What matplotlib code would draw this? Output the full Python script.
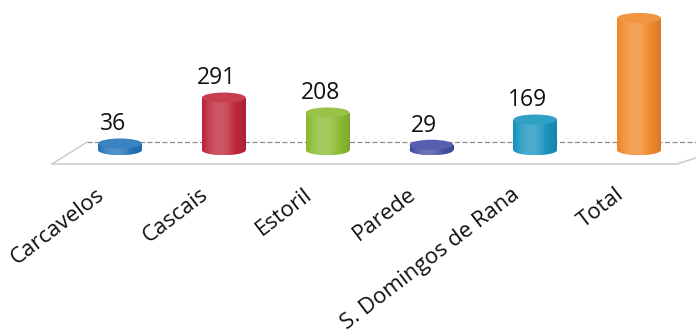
import numpy as np
import matplotlib.pyplot as plt
from matplotlib.patches import Rectangle, Ellipse
from matplotlib.colors import to_rgb

plt.rcParams['font.family'] = ['Open Sans', 'DejaVu Sans']

categories = ['Carcavelos', 'Cascais', 'Estoril', 'Parede', 'S. Domingos de Rana', 'Total']
values = [36, 291, 208, 29, 169, 733]
colors = ['#2474bb', '#c0283b', '#8cbc33', '#444ea5', '#1a95bf', '#f0892c']
show_value = [True, True, True, True, True, False]

fig = plt.figure(figsize=(6.96, 3.36), dpi=100)
ax = fig.add_axes([0, 0, 1, 1])
ax.set_xlim(-120 / 103.8, 576 / 103.8)
ax.set_ylim(-1033, 833)
ax.axis('off')

bar_w = 0.42
ell_h = 56  # ellipse height in data units


def shade(base, n=64):
    r, g, b = to_rgb(base)
    t = np.linspace(0, 1, n)
    # light band a bit left of centre, darker at the edges
    k = 1 - 1.6 * (t - 0.4) ** 2
    rows = []
    for kk in k:
        if kk >= 0.8:
            m = (kk - 0.8) / 0.2 * 0.22
            rows.append([r + (1 - r) * m, g + (1 - g) * m, b + (1 - b) * m])
        else:
            f = 0.75 + 0.25 * kk / 0.8
            rows.append([r * f, g * f, b * f])
    return np.array(rows)[None, :, :]


def lighten(base, m):
    r, g, b = to_rgb(base)
    return (r + (1 - r) * m, g + (1 - g) * m, b + (1 - b) * m)


# floor of the plot area
ax.plot([-0.318, 5.55], [44, 44], color='#8c8c8c', lw=0.9, ls=(0, (4, 2)), zorder=1)
ax.plot([-0.655, -0.318], [-78, 44], color='#c8c8c8', lw=1.0, zorder=1)
ax.plot([-0.655, 5.366, 5.55], [-78, -78, -44], color='#d2d2d2', lw=1.3, zorder=1)

x = np.arange(len(categories))
for i, (v, c) in enumerate(zip(values, colors)):
    left = x[i] - bar_w / 2
    grad = shade(c)
    body = Rectangle((left, 0), bar_w, v, facecolor=c, edgecolor='none', zorder=3)
    bottom = Ellipse((x[i], 0), bar_w, ell_h, facecolor=c, edgecolor='none', zorder=3)
    ax.add_patch(body)
    ax.add_patch(bottom)
    for p in (body, bottom):
        im = ax.imshow(grad, extent=(left, left + bar_w, -ell_h, v), aspect='auto',
                       interpolation='bilinear', zorder=4)
        im.set_clip_path(p)
    top = Ellipse((x[i], v), bar_w, ell_h, facecolor=lighten(c, 0.1),
                  edgecolor='none', zorder=5)
    ax.add_patch(top)
    if show_value[i]:
        ax.text(x[i] - 0.07, v + ell_h / 2 + 12, str(v), ha='center', va='bottom',
                fontsize=16.5, color='#111111', zorder=6)

    ax.text(x[i] - 0.17, -235, categories[i], rotation=37.5, rotation_mode='anchor',
            ha='right', va='center', fontsize=16, color='#111111')

fig.savefig('out.png', dpi=100, facecolor='white')
